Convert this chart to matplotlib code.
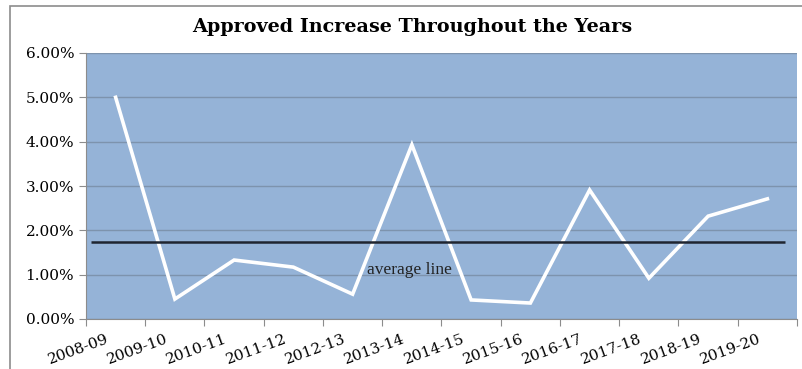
import matplotlib.pyplot as plt
from matplotlib.patches import Rectangle
from matplotlib.ticker import FuncFormatter
from matplotlib.transforms import ScaledTranslation

# chart data
years = ["2008-09", "2009-10", "2010-11", "2011-12", "2012-13", "2013-14",
         "2014-15", "2015-16", "2016-17", "2017-18", "2018-19", "2019-20"]
increase = [5.00, 0.45, 1.33, 1.17, 0.56, 3.93, 0.43, 0.36, 2.91, 0.92, 2.32, 2.71]
average = 1.74

plt.rcParams['font.family'] = ['DejaVu Serif']

fig = plt.figure(figsize=(8.03, 3.69), dpi=100)
ax = fig.add_axes([86 / 803, 50 / 369, 711 / 803, 266 / 369])

# outer chart border
fig.patches.append(Rectangle((10 / 803, -0.05), 1.0, 1 - 6 / 369 + 0.05,
                             transform=fig.transFigure, fill=False,
                             edgecolor="#8c8c8c", linewidth=1.2))

ax.set_facecolor("#95b3d7")
x = list(range(len(years)))
ax.plot(x, increase, color="white", linewidth=2.6, solid_joinstyle="miter", zorder=3)
ax.hlines(average, -0.42, 11.3, color="#1f2530", linewidth=1.8, zorder=4)
ax.text(4.24, 1.1, "average line", fontsize=12.5, va="center", ha="left",
        color="#222222", family="Liberation Serif")

ax.set_xlim(-0.5, 11.5)
ax.set_ylim(0, 6)
ax.set_yticks([0, 1, 2, 3, 4, 5, 6])
ax.yaxis.set_major_formatter(FuncFormatter(lambda v, p: f"{v:.2f}%"))
ax.grid(axis="y", color="#7d93ad", linewidth=1.0)
ax.set_axisbelow(True)

# category ticks between points, labels ending under the points
ax.set_xticks([i - 0.5 for i in range(len(years) + 1)])
ax.set_xticklabels([])
ax.set_xticks(x, minor=True)
ax.set_xticklabels(years, minor=True, rotation=20, ha="right", va="top",
                   rotation_mode="anchor", fontsize=11)
ax.tick_params(axis="x", which="minor", length=0, pad=9)
ax.tick_params(axis="x", which="major", length=5, color="#8c8c8c")
ax.tick_params(axis="y", length=5, color="#8c8c8c", labelsize=11)
shift = ScaledTranslation(-7 / 72, 0, fig.dpi_scale_trans)
for lbl in ax.get_xticklabels(minor=True):
    lbl.set_transform(lbl.get_transform() + shift)

for side in ["top", "right"]:
    ax.spines[side].set_visible(False)
ax.spines["left"].set_color("#8c8c8c")
ax.spines["bottom"].set_color("#8c8c8c")

fig.text(412 / 803, 1 - 27 / 369, "Approved Increase Throughout the Years",
         ha="center", va="center", fontsize=13.8, fontweight="bold")

fig.savefig("out.png", dpi=100)
